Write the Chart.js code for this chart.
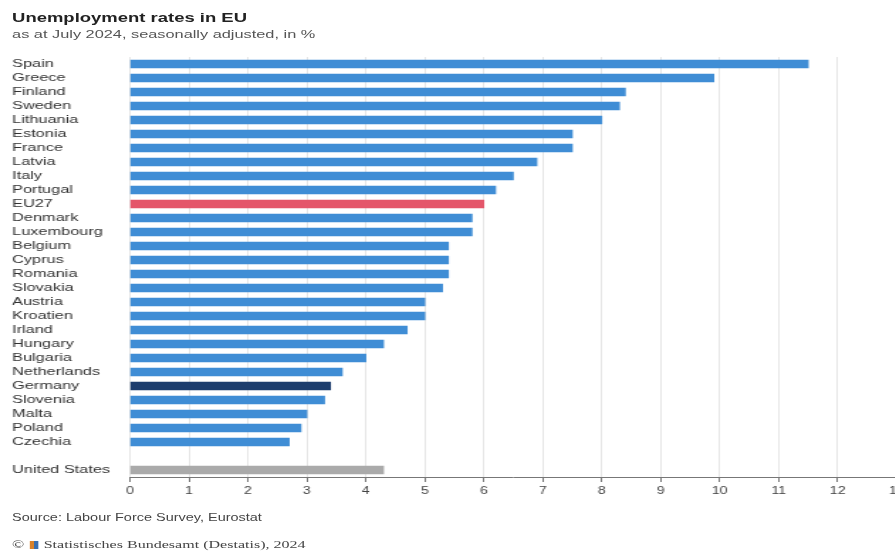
<!DOCTYPE html>
<html>
<head>
<meta charset="utf-8">
<script src="https://cdn.jsdelivr.net/npm/chart.js@4"></script>
<style>
  html, body { margin: 0; padding: 0; background: #fff; overflow: hidden; }
  body { width: 895px; height: 553px; position: relative; font-family: "Liberation Sans", Arial, sans-serif; }
  /* the whole graphic is laid out narrow and stretched horizontally */
  #stage { position: absolute; left: 0; top: 0; width: 640px; height: 553px; transform: scaleX(1.42); transform-origin: 0 0; }
  .title { position: absolute; left: 8.5px; top: 10px; font-size: 13px; font-weight: bold; color: #222; white-space: nowrap; }
  .subtitle { position: absolute; left: 8.5px; top: 28px; font-size: 11.5px; color: #555; white-space: nowrap; }
  .source { position: absolute; left: 8.5px; top: 512px; font-size: 10.2px; color: #444; white-space: nowrap; }
  .copy { position: absolute; left: 8.5px; top: 538px; font-size: 11.3px; color: #444; white-space: nowrap; font-family: "Liberation Serif", "DejaVu Serif", serif; }
  .logo { display: inline-block; width: 6px; height: 8px; margin: 0 1px; background: linear-gradient(90deg, #d9822b 0 45%, #3a6fb0 45% 100%); vertical-align: -1px; }
  #wrap { position: absolute; left: 0; top: 0; width: 640px; height: 500px; }
</style>
</head>
<body>
<div id="stage">
  <div class="title">Unemployment rates in EU</div>
  <div class="subtitle">as at July 2024, seasonally adjusted, in %</div>
  <div id="wrap"><canvas id="chart"></canvas></div>
  <div class="source">Source: Labour Force Survey, Eurostat</div>
  <div class="copy">© <span class="logo"></span> Statistisches Bundesamt (Destatis), 2024</div>
</div>

<script>
// unemployment rate per country, July 2024 (empty slot separates the US)
const countries = [
  'Spain', 'Greece', 'Finland', 'Sweden', 'Lithuania', 'Estonia', 'France',
  'Latvia', 'Italy', 'Portugal', 'EU27', 'Denmark', 'Luxembourg', 'Belgium',
  'Cyprus', 'Romania', 'Slovakia', 'Austria', 'Kroatien', 'Irland', 'Hungary',
  'Bulgaria', 'Netherlands', 'Germany', 'Slovenia', 'Malta', 'Poland', 'Czechia',
  '', 'United States'
];
const rates = [
  11.5, 9.9, 8.4, 8.3, 8.0, 7.5, 7.5,
  6.9, 6.5, 6.2, 6.0, 5.8, 5.8, 5.4,
  5.4, 5.4, 5.3, 5.0, 5.0, 4.7, 4.3,
  4.0, 3.6, 3.4, 3.3, 3.0, 2.9, 2.7,
  null, 4.3
];
const xTicks = [0, 1, 2, 3, 4, 5, 6, 7, 8, 9, 10, 11, 12, 13];

const colors = {
  country: '#3f8dd5',
  eu: '#e4566a',
  germany: '#1d3d6d',
  us: '#aaaaaa'
};

const barColors = countries.map(name => {
  if (name === 'EU27') return colors.eu;
  if (name === 'Germany') return colors.germany;
  if (name === 'United States') return colors.us;
  return colors.country;
});

new Chart(document.getElementById('chart'), {
  type: 'bar',
  data: {
    labels: countries,
    datasets: [{
      data: rates,
      backgroundColor: barColors,
      barThickness: 8,
      borderWidth: 0
    }]
  },
  options: {
    indexAxis: 'y',
    responsive: true,
    maintainAspectRatio: false,
    animation: false,
    layout: {
      padding: { top: 57, left: 8.5, right: 6, bottom: 0 }
    },
    plugins: {
      legend: { display: false },
      tooltip: { enabled: false }
    },
    scales: {
      x: {
        min: 0,
        max: 13,
        afterBuildTicks: axis => {
          axis.ticks = xTicks.map(v => ({ value: v }));
        },
        grid: {
          color: '#e6e6e6',
          lineWidth: 1,
          drawTicks: true,
          tickLength: 5,
          tickColor: '#777'
        },
        border: { display: true, color: '#777', width: 1 },
        ticks: {
          color: '#444',
          padding: 3,
          font: { family: 'Liberation Sans', size: 10 }
        }
      },
      y: {
        afterFit: axis => { axis.width = 83; },
        grid: { display: false, drawTicks: false },
        border: { display: false },
        ticks: {
          crossAlign: 'far',
          padding: 0,
          autoSkip: false,
          color: '#333',
          font: { family: 'Liberation Sans', size: 11.5 }
        }
      }
    }
  }
});
</script>
</body>
</html>
